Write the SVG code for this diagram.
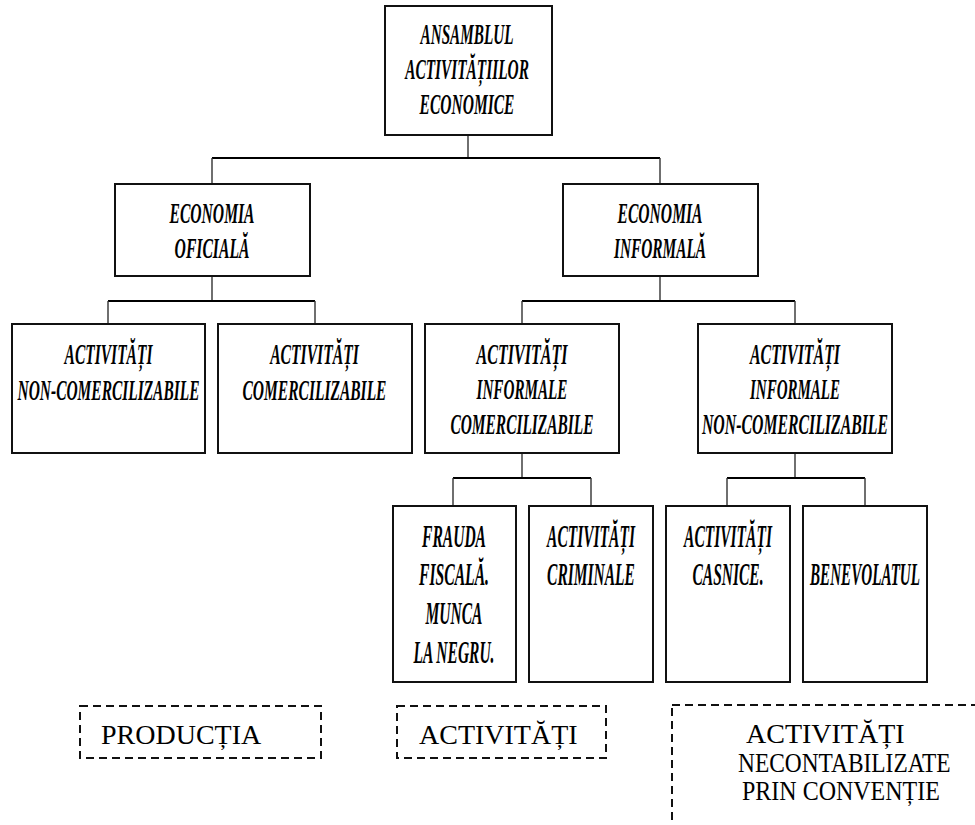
<svg xmlns="http://www.w3.org/2000/svg" width="975" height="825" viewBox="0 0 975 825">
  <style>
    .box { fill: #fff; stroke: #111; stroke-width: 2; }
    .dash { fill: none; stroke: #111; stroke-width: 2; stroke-dasharray: 8 5; }
    .v { stroke: #333; stroke-width: 1.4; fill: none; }
    .h { stroke: #000; stroke-width: 2.2; fill: none; }
    .t { font-family: "Liberation Serif", "Times New Roman", serif; font-weight: bold; font-style: italic; font-size: 29px; fill: #000; text-anchor: middle; }
    .t4 { font-size: 31px; }
    .n { font-family: "Liberation Serif", "Times New Roman", serif; font-size: 28px; fill: #000; }
  </style>
  <rect width="975" height="825" fill="#fff"/>

  <!-- connectors -->
  <g id="connectors">
    <path class="v" d="M468 135V158"/>
    <path class="h" d="M212 158H660"/>
    <path class="v" d="M212 158V184M660 158V184"/>
    <path class="v" d="M212 276V301"/>
    <path class="h" d="M108 301H315"/>
    <path class="v" d="M108 301V324M315 301V324"/>
    <path class="v" d="M660 276V301"/>
    <path class="h" d="M522 301H795"/>
    <path class="v" d="M522 301V324M795 301V324"/>
    <path class="v" d="M522 453V478"/>
    <path class="h" d="M453 478H591"/>
    <path class="v" d="M453 478V506M591 478V506"/>
    <path class="v" d="M795 453V478"/>
    <path class="h" d="M727 478H865"/>
    <path class="v" d="M727 478V506M865 478V506"/>
  </g>

  <!-- box labels are condensed horizontally with scale(0.53, 1) -->
  <g id="ansamblu">
    <rect class="box" x="385" y="6" width="167" height="129"/>
    <text class="t" transform="translate(467 44) scale(0.525 1)">ANSAMBLUL</text>
    <text class="t" transform="translate(467 79) scale(0.53 1)">ACTIVITĂȚIILOR</text>
    <text class="t" transform="translate(467 114) scale(0.535 1)">ECONOMICE</text>
  </g>

  <g id="economia-oficiala">
    <rect class="box" x="115" y="184" width="195" height="92"/>
    <text class="t" transform="translate(212 223) scale(0.538 1)">ECONOMIA</text>
    <text class="t" transform="translate(212 258) scale(0.54 1)">OFICIALĂ</text>
  </g>

  <g id="economia-informala">
    <rect class="box" x="563" y="184" width="195" height="92"/>
    <text class="t" transform="translate(660 223) scale(0.538 1)">ECONOMIA</text>
    <text class="t" transform="translate(660 258) scale(0.53 1)">INFORMALĂ</text>
  </g>

  <g id="activitati-non-comercializabile">
    <rect class="box" x="12" y="324" width="193" height="129"/>
    <text class="t" transform="translate(108.5 364) scale(0.535 1)">ACTIVITĂȚI</text>
    <text class="t" transform="translate(108.5 400) scale(0.533 1)">NON-COMERCILIZABILE</text>
  </g>

  <g id="activitati-comercializabile">
    <rect class="box" x="218" y="324" width="194" height="129"/>
    <text class="t" transform="translate(314.5 364) scale(0.54 1)">ACTIVITĂȚI</text>
    <text class="t" transform="translate(314.5 400) scale(0.535 1)">COMERCILIZABILE</text>
  </g>

  <g id="informale-comercializabile">
    <rect class="box" x="425" y="324" width="194" height="129"/>
    <text class="t" transform="translate(522 364) scale(0.553 1)">ACTIVITĂȚI</text>
    <text class="t" transform="translate(522 399) scale(0.523 1)">INFORMALE</text>
    <text class="t" transform="translate(522 434) scale(0.532 1)">COMERCILIZABILE</text>
  </g>

  <g id="informale-non-comercializabile">
    <rect class="box" x="698" y="324" width="194" height="129"/>
    <text class="t" transform="translate(795 364) scale(0.548 1)">ACTIVITĂȚI</text>
    <text class="t" transform="translate(795 399) scale(0.518 1)">INFORMALE</text>
    <text class="t" transform="translate(795 434) scale(0.545 1)">NON-COMERCILIZABILE</text>
  </g>

  <g id="frauda-fiscala">
    <rect class="box" x="393" y="506" width="123" height="176"/>
    <text class="t t4" transform="translate(454 547) scale(0.502 1)">FRAUDA</text>
    <text class="t t4" transform="translate(454 585) scale(0.505 1)">FISCALĂ.</text>
    <text class="t t4" transform="translate(454 624) scale(0.5 1)">MUNCA</text>
    <text class="t t4" transform="translate(454 663) scale(0.5 1)">LA NEGRU.</text>
  </g>

  <g id="activitati-criminale">
    <rect class="box" x="529" y="506" width="124" height="176"/>
    <text class="t t4" transform="translate(591 547) scale(0.5 1)">ACTIVITĂȚI</text>
    <text class="t t4" transform="translate(591 585) scale(0.5 1)">CRIMINALE</text>
  </g>

  <g id="activitati-casnice">
    <rect class="box" x="666" y="506" width="124" height="176"/>
    <text class="t t4" transform="translate(728 547) scale(0.5 1)">ACTIVITĂȚI</text>
    <text class="t t4" transform="translate(728 585) scale(0.5 1)">CASNICE.</text>
  </g>

  <g id="benevolatul">
    <rect class="box" x="803" y="506" width="124" height="176"/>
    <text class="t t4" transform="translate(865 585) scale(0.488 1)">BENEVOLATUL</text>
  </g>

  <!-- dashed category labels -->
  <g id="productia">
    <rect class="dash" x="80" y="706" width="241" height="52"/>
    <text class="n" x="101" y="744">PRODUCȚIA</text>
  </g>

  <g id="activitati">
    <rect class="dash" x="397" y="706" width="209" height="52"/>
    <text class="n" x="419" y="744">ACTIVITĂȚI</text>
  </g>

  <g id="necontabilizate">
    <rect class="dash" x="672" y="705" width="330" height="150"/>
    <text class="n" x="746" y="743">ACTIVITĂȚI</text>
    <text class="n" transform="translate(738 772) scale(0.836 1)">NECONTABILIZATE</text>
    <text class="n" transform="translate(742 800) scale(0.857 1)">PRIN CONVENȚIE</text>
  </g>
</svg>
